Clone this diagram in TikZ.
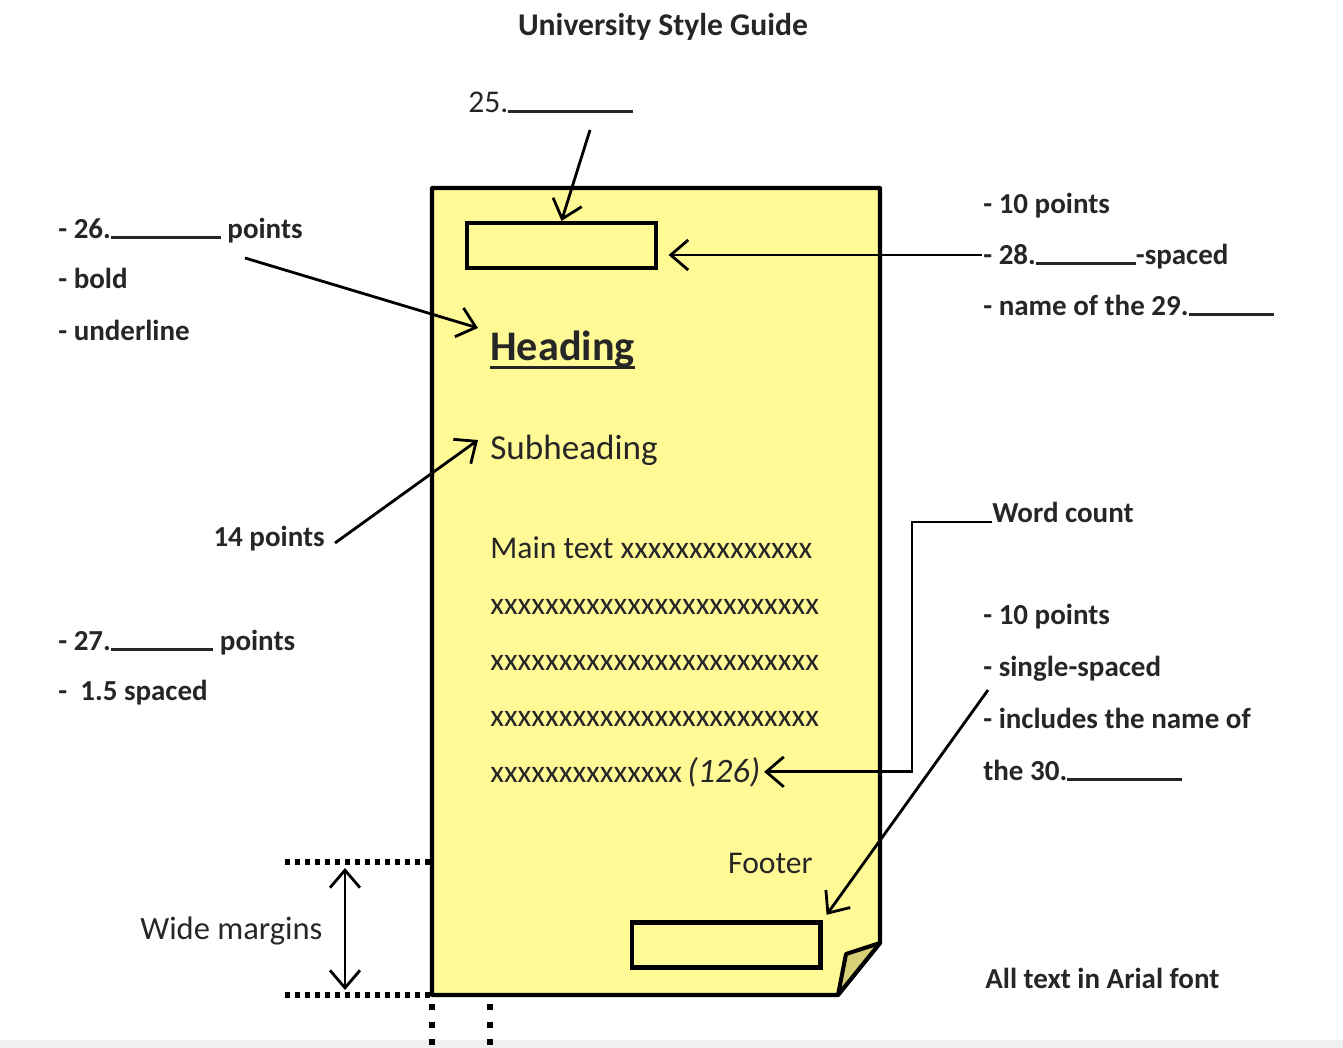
\documentclass[tikz,border=0pt]{standalone}
\usepackage{fontspec}
\setmainfont{Carlito}
\usetikzlibrary{arrows.meta}
\definecolor{paper}{RGB}{255,250,150}
\definecolor{curl}{RGB}{214,208,118}
\newcommand\blank[1]{\rule[-0.5pt]{#1}{1.5pt}}

\begin{document}
\begin{tikzpicture}[x=0.02cm,y=-0.02cm,
    lbl/.style={anchor=base west,inner sep=0pt,text=black!85,font=\fontsize{16.5}{20}\selectfont\bfseries},
    body/.style={anchor=base west,inner sep=0pt,text=black!85,font=\fontsize{18}{22}\selectfont},
    arr/.style={line width=1.6pt,-{Straight Barb[length=3.5mm,width=6mm]}},
    box/.style={draw,line width=2.3pt,fill=paper,minimum width=3.78cm,minimum height=0.9cm,inner sep=0pt},
    dots/.style={line width=3.2pt,dash pattern=on 3pt off 2.7pt}]
    \useasboundingbox (0,0) rectangle (1343,1048);
    \fill[gray!12] (0,1040) rectangle (1343,1048);
    % Title
    \node[anchor=base,inner sep=0pt,text=black!85,font=\fontsize{18}{22}\selectfont\bfseries] (title) at (663,35) {University Style Guide};
    \node[body] (q25) at (468,112) {25.\blank{2.5cm}};
    % Page
    \draw[line width=2.3pt,fill=paper,line join=round] (432,188) -- (880,188) -- (880,943) -- (838,995) -- (432,995) -- cycle;
    \draw[line width=2.3pt,fill=curl,line join=round] (880,943) -- (846,954) -- (838,995) -- cycle;
    \node[box] (header) at (561.5,245.5) {};
    \node[box] (footbox) at (726,945) {};
    \node[anchor=base west,inner sep=0pt,text=black!85,font=\fontsize{24}{28}\selectfont\bfseries] (heading) at (490,360) {Heading};
    \draw[line width=1.8pt,black!85] ([yshift=-4.5pt]heading.base west) -- ([yshift=-4.5pt]heading.base east);
    \node[anchor=base west,inner sep=0pt,text=black!85,font=\fontsize{20}{24}\selectfont] (subhead) at (490,459) {Subheading};
    \node[body] (main1) at (490,558) {Main text xxxxxxxxxxxxxx};
    \node[body] (main2) at (490,614) {xxxxxxxxxxxxxxxxxxxxxxxx};
    \node[body] (main3) at (490,670) {xxxxxxxxxxxxxxxxxxxxxxxx};
    \node[body] (main4) at (490,726) {xxxxxxxxxxxxxxxxxxxxxxxx};
    \node[body] (main5) at (490,782) {xxxxxxxxxxxxxx\,{\fontsize{19.5}{22}\selectfont\textit{(126)}}};
    \node[body,anchor=base east] (footer) at (813,873) {Footer};
    % Left notes
    \node[lbl] (l26) at (58,238) {- 26.\blank{2.2cm} points};
    \node[lbl] (lbold) at (58,288) {- bold};
    \node[lbl] (lunder) at (58,340) {- underline};
    \node[lbl,anchor=base east] (l14) at (325,546) {14 points};
    \node[lbl] (l27) at (58,650) {- 27.\blank{2.05cm} points};
    \node[lbl] (l15) at (58,700) {-\ \ 1.5 spaced};
    \node[body,font=\fontsize{18.5}{22}\selectfont] (wide) at (140,939) {Wide margins};
    % Right notes
    \node[lbl] (r10) at (983,213) {- 10 points};
    \node[lbl] (r28) at (983,264) {- 28.\blank{2cm}-spaced};
    \node[lbl] (r29) at (983,315) {- name of the 29.\blank{1.7cm}};
    \node[lbl] (wc) at (992,522) {Word count};
    \node[lbl] (f10) at (983,624) {- 10 points};
    \node[lbl] (fsingle) at (983,676) {- single-spaced};
    \node[lbl] (fincl) at (983,728) {- includes the name of};
    \node[lbl] (f30) at (983,780) {the 30.\blank{2.3cm}};
    \node[lbl] (arial) at (985,988) {All text in Arial font};
    % Arrows
    \coordinate (t25) at (590,130);
    \coordinate (t26) at (245,258);
    \coordinate (e26) at (478,328);
    \coordinate (t14) at (335,543);
    \coordinate (e14) at (478,440);
    \coordinate (t28) at (982,255);
    \coordinate (wcbend) at (912,522);
    \coordinate (t30) at (988,690);
    \draw[arr] (t25) -- (header.north);
    \draw[arr] (t26) -- (e26);
    \draw[arr] (t14) -- (e14);
    \draw[arr,shorten >=6pt] (t28) -- (t28 -| header.east);
    \draw[arr,shorten >=2pt] (wc.base west) -- (wcbend) |- (main5.east);
    \draw[arr,shorten >=4pt] (t30) -- (footbox.north east);
    % Margins
    \draw[dots] (285,862) -- (430,862);
    \draw[dots] (285,995) -- (430,995);
    \draw[line width=3.4pt,dash pattern=on 3.4pt off 6.6pt] (432,1004) -- (432,1048);
    \draw[line width=3.4pt,dash pattern=on 3.4pt off 6.6pt] (490,1004) -- (490,1048);
    \coordinate (mtop) at (345,868);
    \coordinate (mbot) at (345,990);
    \draw[line width=1.6pt,{Straight Barb[length=3.5mm,width=6mm]}-{Straight Barb[length=3.5mm,width=6mm]}] (mtop) -- (mbot);
\end{tikzpicture}
\end{document}
